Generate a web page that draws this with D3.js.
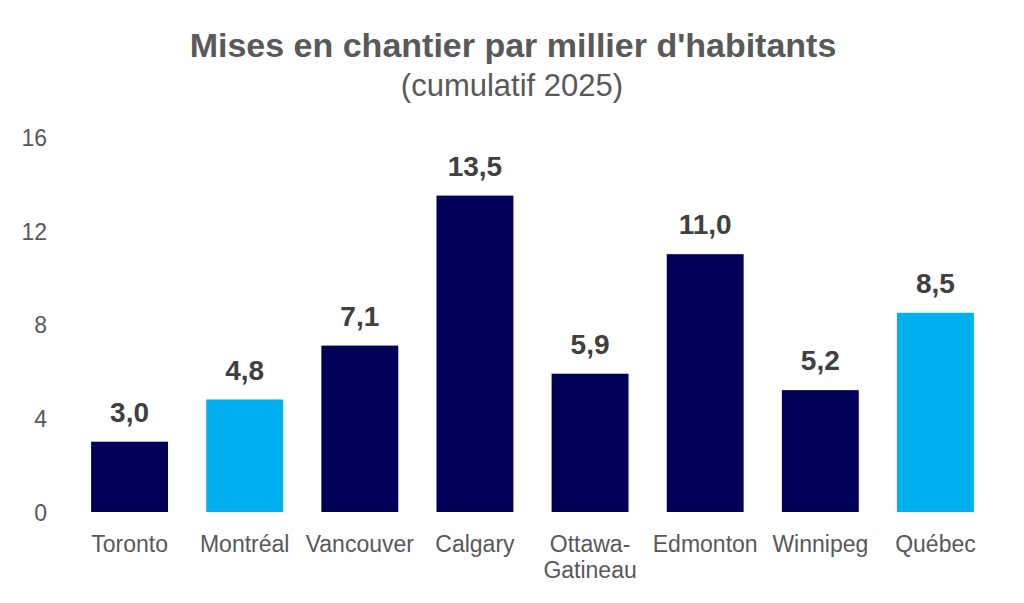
<!DOCTYPE html>
<html>
<head>
<meta charset="utf-8">
<script src="https://cdn.jsdelivr.net/npm/d3@7"></script>
<style>
  body { margin: 0; background: #fff; }
  text { font-family: "Liberation Sans", Arial, sans-serif; }
</style>
</head>
<body>
<svg id="chart" width="1024" height="603"></svg>
<script>
// data
var cities = ["Toronto", "Montréal", "Vancouver", "Calgary", "Ottawa-\nGatineau", "Edmonton", "Winnipeg", "Québec"];
var values = [3.0, 4.8, 7.1, 13.5, 5.9, 11.0, 5.2, 8.5];
var highlighted = ["Montréal", "Québec"];
var yTicks = [0, 4, 8, 12, 16];

var w = 1024, h = 603;
var svg = d3.select("#chart");

var xScale = d3.scaleBand()
  .domain(cities)
  .range([72, 993])
  .paddingInner(0.332)
  .paddingOuter(0.166);

var yScale = d3.scaleLinear()
  .domain([0, 16])
  .range([512, 137]);

// title
svg.append("text")
  .attr("x", 513).attr("y", 57)
  .attr("text-anchor", "middle")
  .attr("font-size", 34).attr("font-weight", "bold")
  .attr("fill", "#595959")
  .text("Mises en chantier par millier d'habitants");

svg.append("text")
  .attr("x", 512).attr("y", 96)
  .attr("text-anchor", "middle")
  .attr("font-size", 31)
  .attr("fill", "#595959")
  .text("(cumulatif 2025)");

// y axis (labels only)
var yAxis = d3.axisLeft(yScale).tickValues(yTicks).tickSize(0).tickPadding(0);
var gy = svg.append("g")
  .attr("transform", "translate(47,0)")
  .call(yAxis);
gy.select(".domain").remove();
gy.selectAll("text")
  .attr("font-size", 23)
  .attr("fill", "#595959")
  .attr("font-family", "Liberation Sans, Arial, sans-serif")
  .attr("dy", "0.36em");

// bars
svg.selectAll("rect.bar")
  .data(values)
  .enter()
  .append("rect")
  .attr("class", "bar")
  .attr("x", function(d, i) { return xScale(cities[i]); })
  .attr("y", function(d) { return yScale(d); })
  .attr("width", xScale.bandwidth())
  .attr("height", function(d) { return yScale(0) - yScale(d); })
  .attr("fill", function(d, i) {
    return highlighted.indexOf(cities[i]) >= 0 ? "#00B0F0" : "#000058";
  });

// value labels
svg.selectAll("text.val")
  .data(values)
  .enter()
  .append("text")
  .attr("class", "val")
  .attr("x", function(d, i) { return xScale(cities[i]) + xScale.bandwidth() / 2; })
  .attr("y", function(d) { return yScale(d) - 20; })
  .attr("text-anchor", "middle")
  .attr("font-size", 28).attr("font-weight", "bold")
  .attr("fill", "#404040")
  .text(function(d) { return d.toFixed(1).replace(".", ","); });

// x axis (labels only, split on line breaks)
var xAxis = d3.axisBottom(xScale).tickSize(0).tickPadding(0).tickFormat("");
var gx = svg.append("g")
  .attr("transform", "translate(0,512)")
  .call(xAxis);
gx.select(".domain").remove();

gx.selectAll(".tick").append("text")
  .attr("text-anchor", "middle")
  .attr("font-size", 23)
  .attr("fill", "#595959")
  .each(function(d) {
    var lines = d.split("\n");
    var t = d3.select(this);
    lines.forEach(function(l, i) {
      t.append("tspan").attr("x", 0).attr("y", 40 + i * 26).text(l);
    });
  });
</script>
</body>
</html>
